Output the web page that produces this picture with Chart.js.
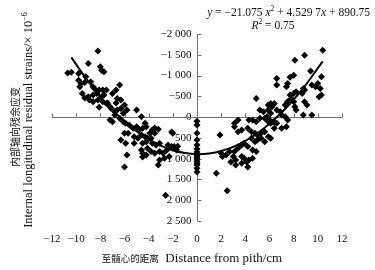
<!DOCTYPE html>
<html>
<head>
<meta charset="utf-8">
<script src="https://cdn.jsdelivr.net/npm/chart.js@4.4.1/dist/chart.umd.min.js"></script>
<style>
  html, body { margin: 0; padding: 0; background: #fff; }
  #wrap { width: 375px; height: 270px; }
</style>
</head>
<body>
<div id="wrap"><canvas id="chart" width="375" height="270"></canvas></div>
<script>
// Tick labels
const xTickValues = [-12, -10, -8, -6, -4, -2, 0, 2, 4, 6, 8, 10, 12];
const xTickLabels = ['\u221212', '\u221210', '\u22128', '\u22126', '\u22124', '\u22122', '0', '2', '4', '6', '8', '10', '12'];
const yTickValues = [-2000, -1500, -1000, -500, 0, 500, 1000, 1500, 2000, 2500];
const yTickLabels = ['\u22122 000', '\u22121 500', '\u22121 000', '\u2212500', '0', '500', '1 000', '1 500', '2 000', '2 500'];

// Residual strains, left of the pith (cm, 1e-6)
const leftX = [-8.2, -9.0, -10.4, -10.7, -8.0, -7.9, -7.7, -9.8, -9.8, -9.6, -9.3, -9.7, -9.2, -8.8, -8.6, -8.5, -8.1, -7.8, -7.5, -6.7,
  -9.5, -9.0, -8.6, -8.3, -7.9, -7.7, -7.0, -6.6, -8.9, -8.6, -8.2, -7.8, -7.5, -7.2, -7.1, -6.8, -6.6, -7.2, -7.0, -8.1,
  -6.7, -6.8, -6.4, -9.3, -7.4,
  -6.3, -6.0, -6.3, -6.1, -5.0, -4.6, -6.4, -6.1, -5.9, -5.6, -5.3, -5.0, -4.8, -4.5, -4.3, -4.2, -3.7, -3.5, -2.0, -6.0,
  -5.7, -6.3, -5.2, -4.9, -4.6, -4.3, -4.1, -5.9, -5.2, -4.5, -4.2, -3.7, -3.4, -3.1, -2.4, -2.1, -1.9, -1.6, -4.6, -4.1,
  -3.8, -3.5, -3.1, -2.8, -2.5, -4.5, -4.2, -3.1, -2.7, -2.3, -6.0, -3.2, -2.6, -5.8, -4.5, -2.0, -1.7, -3.5, -3.2, -2.1,
  -3.9, -3.8, -5.8];
const leftY = [-1590, -1290, -1080, -1060, -1210, -1130, -1090, -1050, -890, -810, -830, -730, -970, -850, -730, -690, -650, -650, -650, -650,
  -570, -490, -530, -570, -490, -530, -570, -450, -410, -370, -410, -370, -330, -250, -210, -130, -170, 70, 110, -240,
  -340, -50, -770, -460, -340,
  -410, -290, -210, -90, -170, -10, 30, 110, 150, 190, 270, 230, 310, 270, 150, 230, 310, 390, 390, 390,
  390, 550, 470, 510, 430, 470, 510, 630, 630, 630, 590, 630, 670, 630, 670, 710, 710, 700, 790, 750,
  830, 870, 830, 870, 790, 870, 910, 1030, 990, 950, 1200, 1150, 1880, 910, 960, 750, 790, 260, 290, 360,
  390, 510, -170];

// Residual strains at the pith
const pithX = [0, 0, 0, 0, 0, 0, 0, 0, 0, 0, 0, 0, 0, 0, 0];
const pithY = [100, 190, 390, 550, 670, 770, 840, 910, 960, 1010, 1060, 1110, 1150, 1230, 1320];

// Residual strains, right of the pith
const rightX = [4.9, 5.9, 6.1, 6.1, 5.2, 3.4, 3.1, 4.3, 4.6, 4.9, 5.2, 5.6, 5.9, 6.1, 6.4, 1.9, 3.1, 3.4, 3.7, 4.2,
  4.5, 4.8, 5.0, 5.3, 5.6, 4.5, 4.8, 5.0, 5.3, 5.6, 5.9, 6.1, 3.7, 3.9, 4.2, 3.4, 3.1, 2.7, 2.4, 2.1,
  4.6, 4.9, 3.0, 3.2, 2.8, 3.7, 3.9, 4.1, 4.3, 4.6, 3.2, 3.7, 4.2, 1.6, 2.5, 2.0,
  10.4, 8.9, 8.1, 9.4, 6.6, 8.0, 7.7, 6.6, 7.5, 7.4, 8.2, 8.0, 8.8, 8.9, 8.7, 9.5, 9.8, 10.0, 10.2, 10.3,
  8.9, 9.1, 7.7, 7.8, 7.5, 7.3, 8.0, 8.1, 8.2, 8.8, 9.5, 6.4, 6.2, 5.9, 6.6, 6.9, 7.0, 7.3, 7.5, 5.5,
  5.8, 6.0, 6.3, 6.6, 7.4, 7.0, 6.4, 10.3, 10.1];
const rightY = [-450, -290, -330, -90, -170, 70, 150, 70, 70, 110, 30, 30, 110, 150, 110, 430, 230, 350, 310, 270,
  350, 390, 430, 390, 350, 510, 590, 550, 510, 590, 470, 510, 670, 630, 710, 750, 830, 830, 910, 950,
  790, 830, 950, 1030, 1080, 950, 990, 1080, 1030, 990, 1150, 1110, 1200, 1350, 1770, 870,
  -1610, -1490, -1370, -1110, -930, -1010, -960, -770, -810, -730, -610, -570, -690, -650, -570, -770, -730, -810, -690, -530,
  -370, -290, -530, -450, -370, -290, -370, -250, -170, -50, -50, -330, -250, -170, -170, -130, -50, -10, 70, -130,
  -10, 70, 110, 150, 230, 270, 270, -970, -490];

// Fitted curve
const fitX = [-10.4, -9, -8, -7, -6, -5, -4, -3, -2, -1, 0, 1, 2, 3, 4, 5, 6, 7, 8, 9, 10.4];
const fitY = [-1436, -857, -494, -174, 105, 341, 535, 688, 797, 865, 891, 874, 816, 715, 572, 387, 159, -110, -422, -776, -1342];

const serif = "'Liberation Serif', 'Noto Sans CJK SC', serif";
const cjk = "'Noto Sans CJK SC', sans-serif";
const ink = '#111';
const axisColor = '#707070';

function toPoints(xs, ys) {
  return xs.map((x, i) => ({ x: x, y: ys[i] }));
}

// draw a run of text pieces (italic / superscript / own size) one after another
function drawRich(ctx, parts, x, y, size, align) {
  const fontFor = p => {
    const s = p.size || size;
    return (p.i ? 'italic ' : '') + (p.sup ? s * 0.65 : s) + 'px ' + (p.family || serif);
  };
  let total = 0;
  parts.forEach(p => { ctx.font = fontFor(p); total += ctx.measureText(p.t).width; });
  let cx = align === 'right' ? x - total : (align === 'center' ? x - total / 2 : x);
  parts.forEach(p => {
    ctx.font = fontFor(p);
    ctx.fillText(p.t, cx, p.sup ? y - (p.size || size) * 0.4 : y);
    cx += ctx.measureText(p.t).width;
  });
}

const axesAndNotes = {
  id: 'axesAndNotes',
  beforeDatasetsDraw(chart) {
    const { ctx, scales: { x, y } } = chart;
    const x0 = Math.round(x.getPixelForValue(0)) + 0.5;
    const y0 = Math.round(y.getPixelForValue(0)) + 0.5;
    ctx.save();
    ctx.strokeStyle = axisColor;
    ctx.lineWidth = 1;
    ctx.beginPath();
    // horizontal axis through 0
    ctx.moveTo(x.left, y0);
    ctx.lineTo(x.right, y0);
    xTickValues.forEach(v => {
      const px = Math.round(x.getPixelForValue(v)) + 0.5;
      ctx.moveTo(px, y0);
      ctx.lineTo(px, y0 - 4);
    });
    // vertical axis at the pith
    ctx.moveTo(x0, y.top);
    ctx.lineTo(x0, y.bottom);
    yTickValues.forEach(v => {
      const py = Math.round(y.getPixelForValue(v)) + 0.5;
      ctx.moveTo(x0, py);
      ctx.lineTo(x0 + 4, py);
    });
    ctx.stroke();
    ctx.restore();
  },
  afterDraw(chart) {
    const ctx = chart.ctx;
    ctx.save();
    ctx.fillStyle = ink;
    ctx.textAlign = 'left';
    ctx.textBaseline = 'alphabetic';
    // regression equation
    drawRich(ctx, [
      { t: 'y', i: true }, { t: ' = \u221221.075 ' }, { t: 'x', i: true }, { t: '2', sup: true },
      { t: ' + 4.529 7' }, { t: 'x', i: true }, { t: ' + 890.75' }
    ], 370, 16, 11.5, 'right');
    drawRich(ctx, [{ t: 'R', i: true }, { t: '2', sup: true }, { t: ' = 0.75' }], 273, 29, 11.5, 'center');

    // x axis title
    drawRich(ctx, [
      { t: '\u81f3\u9ad3\u5fc3\u7684\u8ddd\u79bb', size: 9.5, family: cjk },
      { t: '  Distance from pith/cm' }
    ], 192, 262, 13, 'center');

    // y axis title, two rotated lines
    ctx.save();
    ctx.translate(15, 127);
    ctx.rotate(-Math.PI / 2);
    ctx.font = '10px ' + cjk;
    ctx.textAlign = 'center';
    ctx.textBaseline = 'middle';
    ctx.fillText('\u5185\u90e8\u8f74\u5411\u6b8b\u4f59\u5e94\u53d8', 0, 0);
    ctx.restore();

    ctx.save();
    ctx.translate(28, 120);
    ctx.rotate(-Math.PI / 2);
    ctx.textAlign = 'left';
    drawRich(ctx, [{ t: 'Internal longitudinal residual strains/\u00d7 10' }, { t: '\u22126', sup: true }], 0, 4, 12.5, 'center');
    ctx.restore();
    ctx.restore();
  }
};

const markerStyle = {
  pointStyle: 'rectRot',
  pointRadius: 3.5,
  pointHoverRadius: 3.5,
  backgroundColor: '#000',
  borderColor: '#000',
  borderWidth: 0
};

new Chart(document.getElementById('chart'), {
  type: 'scatter',
  data: {
    datasets: [
      {
        label: 'fit',
        data: toPoints(fitX, fitY),
        showLine: true,
        borderColor: '#000',
        borderWidth: 2,
        pointRadius: 0,
        tension: 0.4,
        fill: false
      },
      Object.assign({ label: 'left', data: toPoints(leftX, leftY) }, markerStyle),
      Object.assign({ label: 'pith', data: toPoints(pithX, pithY) }, markerStyle),
      Object.assign({ label: 'right', data: toPoints(rightX, rightY) }, markerStyle)
    ]
  },
  options: {
    responsive: false,
    animation: false,
    layout: { padding: { left: 52, right: 33, top: 34, bottom: 23 } },
    plugins: {
      legend: { display: false },
      tooltip: { enabled: false }
    },
    scales: {
      x: {
        type: 'linear',
        position: 'bottom',
        min: -12,
        max: 12,
        afterFit: scale => { scale.height = 26; },
        ticks: {
          stepSize: 2,
          autoSkip: false,
          maxRotation: 0,
          padding: 12,
          color: ink,
          font: { family: serif, size: 11 },
          callback: v => xTickLabels[xTickValues.indexOf(v)]
        },
        grid: { display: false, drawTicks: false },
        border: { display: false }
      },
      y: {
        type: 'linear',
        position: { x: 0 },
        reverse: true,
        min: -2000,
        max: 2500,
        ticks: {
          stepSize: 500,
          autoSkip: false,
          padding: 0,
          color: ink,
          font: { family: serif, size: 11 },
          callback: v => yTickLabels[yTickValues.indexOf(v)] + '\u2002'
        },
        grid: { display: false, drawTicks: false },
        border: { display: false }
      }
    }
  },
  plugins: [axesAndNotes]
});
</script>
</body>
</html>
